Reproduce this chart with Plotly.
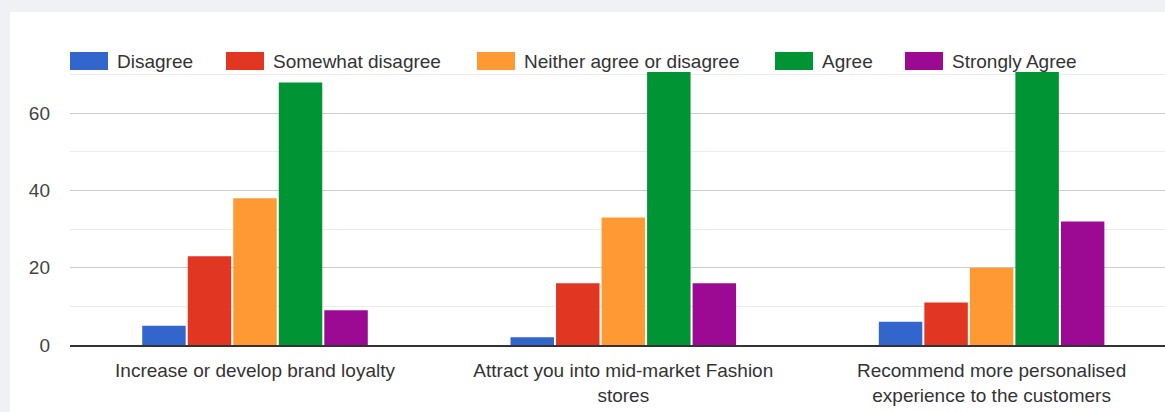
import plotly.graph_objects as go

# Survey statements (x categories) and response counts per answer option
statements = [
    "Increase or develop brand loyalty",
    "Attract you into mid-market Fashion<br>stores",
    "Recommend more personalised<br>experience to the customers",
]
answers = ["Disagree", "Somewhat disagree", "Neither agree or disagree", "Agree", "Strongly Agree"]

disagree = [5, 2, 6]
somewhat_disagree = [23, 16, 11]
neither = [38, 33, 20]
agree = [68, 76, 74]
strongly_agree = [9, 16, 32]

series = [disagree, somewhat_disagree, neither, agree, strongly_agree]
colors = ["#3366cc", "#e03622", "#ff9933", "#009435", "#9c0a94"]

y_ticks = [0, 20, 40, 60]

W, H = 1165, 412
ML, MR, MT, MB = 70, 0, 72, 67
PW, PH = W - ML - MR, H - MT - MB

FONT = "Liberation Sans, Arial, sans-serif"

fig = go.Figure()
for name, vals, col in zip(answers, series, colors):
    fig.add_trace(go.Bar(
        x=list(range(len(statements))),
        y=vals,
        name=name,
        marker=dict(color=col, line=dict(width=0)),
        showlegend=False,
    ))


def px_x(px):
    return (px - ML) / PW


def px_y(py):
    return (H - MB - py) / PH


# white card on the grey page background
shapes = [dict(
    type="rect", xref="paper", yref="paper", layer="below",
    x0=px_x(10), x1=px_x(W + 5), y0=px_y(H + 5), y1=px_y(12),
    fillcolor="white", line=dict(width=0),
)]

# legend row: wide colour swatches with labels
legend_x = [70, 226, 477, 775, 905]
annotations = []
for lx, name, col in zip(legend_x, answers, colors):
    shapes.append(dict(
        type="rect", xref="paper", yref="paper",
        x0=px_x(lx), x1=px_x(lx + 38), y0=px_y(70), y1=px_y(52),
        fillcolor=col, line=dict(width=0),
    ))
    annotations.append(dict(
        x=px_x(lx + 45), y=px_y(61.5), xref="paper", yref="paper",
        text=name, showarrow=False, xanchor="left", yanchor="middle",
        font=dict(family=FONT, size=19, color="#333333"),
    ))

fig.update_layout(
    width=W, height=H,
    margin=dict(l=ML, r=MR, t=MT, b=MB, pad=0),
    paper_bgcolor="#eff1f4",
    plot_bgcolor="white",
    barmode="group",
    bargap=0.382,
    bargroupgap=0.045,
    shapes=shapes,
    annotations=annotations,
    font=dict(family=FONT, size=19, color="#444444"),
    xaxis=dict(
        range=[-0.5023, 2.4708],
        tickvals=list(range(len(statements))),
        ticktext=statements,
        showgrid=False,
        zeroline=False,
        showline=True, linecolor="#333333", linewidth=2,
        ticks="", ticklabelstandoff=7,
        tickfont=dict(family=FONT, size=19, color="#333333"),
        fixedrange=True,
    ),
    yaxis=dict(
        range=[0, 70.7],
        tickvals=y_ticks,
        showgrid=True, gridcolor="#cccccc", gridwidth=1,
        minor=dict(dtick=10, showgrid=True, gridcolor="#ebebeb", gridwidth=1),
        zeroline=False,
        ticks="", ticklabelstandoff=19,
        tickfont=dict(family=FONT, size=19, color="#444444"),
        fixedrange=True,
    ),
)

fig.write_html("out.html")
